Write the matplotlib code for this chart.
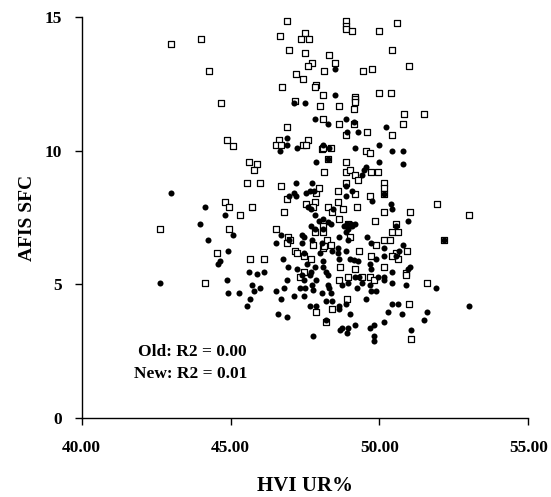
import matplotlib
matplotlib.use("Agg")
import matplotlib.pyplot as plt

plt.rcParams['font.family'] = ['Liberation Serif', 'DejaVu Serif']
plt.rcParams['font.weight'] = 'bold'

# open squares (New)
new_x = [43.0, 44.0, 44.27, 44.67, 44.89, 46.88, 46.66, 47.51, 47.38, 47.65, 46.97, 47.51, 48.3, 47.74,
         47.61, 48.14, 47.19, 47.42, 47.87, 47.83, 48.1, 46.74, 48.02, 47.15, 48.1, 46.89, 46.62, 47.61,
         48.87, 48.87, 48.87, 49.09, 49.99, 50.58, 50.43, 48.51, 49.46, 49.76, 50.98, 49.18, 49.18, 49.18,
         50.0, 50.4, 48.64, 49.14, 50.82, 51.49, 49.14, 48.64, 50.8, 48.87, 49.59, 50.43,
         45.08, 46.53, 46.71, 47.44, 47.52, 48.06, 48.27, 48.14, 45.62, 45.89, 45.8, 45.56, 45.98, 46.71,
         46.88, 47.88, 47.97, 44.81, 44.95, 45.71, 45.31, 42.64, 44.95, 44.55, 45.66, 46.12, 46.79, 47.52,
         47.84, 47.77, 48.27, 47.83, 48.1, 48.1, 46.53, 46.92, 47.01, 46.89, 47.78, 47.17, 47.24, 47.47,
         47.69, 48.1, 48.23, 47.47,
         48.1, 48.36, 49.54, 49.67, 48.87, 48.87, 49.0, 49.18, 49.72, 49.94, 49.27, 48.87, 50.16, 50.16,
         50.16, 48.6, 49.18, 49.67, 48.6, 48.42, 48.78, 49.23, 50.16, 51.03, 51.92, 53.01, 52.16, 48.64,
         49.85, 50.57, 50.43, 50.61, 48.96, 49.0, 50.16, 50.34, 49.9, 50.93, 50.57, 50.43, 50.61, 48.37,
         49.32, 49.72, 48.69, 49.18, 50.16, 50.88,
         44.13, 47.34, 47.88, 48.22,
         48.64, 48.96, 49.41, 49.67, 49.81, 50.9, 51.61, 48.91, 48.42, 50.98, 51.07, 48.15]
new_y = [14.0, 14.2, 12.98, 11.79, 10.4, 14.88, 14.3, 14.4, 14.18, 14.18, 13.78, 13.68, 13.59, 13.28,
         13.18, 12.98, 12.88, 12.68, 12.48, 12.38, 12.09, 12.38, 11.69, 11.88, 11.2, 10.9, 10.4, 10.4,
         14.88, 14.68, 14.58, 14.48, 14.48, 14.78, 13.78, 13.28, 12.98, 13.08, 13.18, 12.03, 11.94, 11.84,
         12.18, 12.18, 11.69, 11.58, 11.39, 11.39, 11.0, 11.0, 11.0, 10.6, 10.7, 10.6,
         10.19, 10.21, 10.21, 10.21, 10.21, 10.09, 9.7, 9.2, 9.6, 9.5, 9.3, 8.8, 8.8, 8.7,
         8.2, 8.41, 8.6, 8.1, 7.91, 7.91, 7.61, 7.07, 7.07, 6.17, 5.97, 5.97, 7.72, 8.01,
         8.1, 7.91, 7.91, 6.97, 7.17, 6.97, 7.07, 6.77, 6.67, 6.57, 6.47, 6.27, 6.17, 6.07,
         5.97, 6.37, 6.67, 5.47,
         10.11, 10.11, 10.01, 9.91, 9.6, 9.2, 9.3, 9.1, 9.2, 9.2, 8.9, 8.8, 8.8, 8.6,
         8.4, 8.5, 8.4, 8.3, 8.1, 7.72, 7.82, 7.91, 7.72, 7.72, 8.01, 7.61, 6.67, 7.46,
         7.37, 7.27, 6.97, 6.97, 7.27, 6.77, 6.67, 6.67, 6.47, 6.27, 6.17, 6.07, 5.97, 6.47,
         6.27, 6.07, 5.67, 5.57, 5.67, 5.42,
         5.07, 5.27, 3.98, 3.58,
         5.17, 5.27, 5.27, 5.27, 5.17, 5.37, 5.07, 4.47, 4.08, 4.28, 2.97, 6.45]

# filled circles (Old)
old_x = [47.14, 47.5, 47.83, 48.28, 46.89,
         48.51, 48.51, 48.87, 49.14, 50.21, 48.91, 49.27,
         46.89, 46.66, 47.23, 48.1, 48.3, 47.87, 47.19, 47.73, 43.0, 47.14, 47.21, 46.96, 47.52, 47.66,
         47.79, 44.13, 44.81, 43.98, 45.08, 44.25, 44.93, 44.66, 44.57, 45.62, 45.89, 46.11, 47.59, 47.71,
         47.83, 48.1, 47.96, 47.69, 47.83, 48.1, 48.27, 46.71, 46.53, 46.96, 47.39, 47.46, 47.41, 47.73,
         47.46, 46.75, 48.0, 48.09, 48.09, 47.83, 47.56, 47.23, 46.93, 47.69,
         49.18, 49.99, 50.43, 50.8, 48.27, 49.99, 50.8, 49.41, 49.49, 49.54, 48.87, 50.16, 49.09, 48.87,
         49.76, 48.45, 50.39, 50.43, 52.16, 50.97, 50.57, 48.37, 48.82, 48.91, 49.05, 49.18, 48.87, 48.96,
         49.09, 48.96, 48.64, 49.58, 49.72, 50.79, 50.66, 50.16, 50.16, 50.57, 48.06, 48.6, 48.87, 48.6,
         48.42, 48.64, 49.0, 49.14, 49.27, 49.9, 49.67, 49.72, 51.02, 50.97, 50.43,
         42.64, 44.89, 44.93, 45.29, 45.71, 45.8, 45.98, 45.66, 45.56, 46.52, 46.79, 46.88, 46.69, 47.14,
         47.46, 46.61, 46.88, 47.46, 47.5, 47.32, 47.73, 47.86, 47.68, 47.41, 48.08, 48.27, 48.22, 47.68,
         47.86, 48.22, 47.77, 48.27,
         49.18, 49.32, 49.41, 49.94, 50.16, 50.16, 48.96, 48.74, 50.43, 50.9, 51.91, 53.01, 48.3, 48.37,
         48.42, 49.23, 49.67, 49.72, 49.9, 49.54, 48.64, 48.64, 48.87, 49.0, 48.74, 48.69, 48.91, 49.18,
         48.96, 49.67, 49.81, 49.81, 49.81, 50.16, 50.3, 50.75, 50.43, 50.61, 51.61, 51.48, 51.07,
         47.78, 48.2]
old_y = [11.79, 11.79, 11.2, 11.01, 10.5,
         13.08, 12.09, 11.2, 11.1, 10.9, 10.7, 10.7,
         10.21, 10.01, 10.11, 10.21, 10.11, 9.6, 8.8, 8.8, 8.41, 8.41, 8.31, 8.31, 8.41, 8.51,
         8.51, 7.91, 7.61, 7.27, 6.87, 6.67, 6.27, 5.87, 5.77, 5.47, 5.39, 5.47, 7.91, 7.83,
         7.61, 7.46, 7.37, 7.17, 7.07, 7.07, 7.32, 6.87, 6.57, 6.67, 6.87, 6.77, 6.57, 6.67,
         6.17, 5.97, 6.17, 5.87, 5.67, 5.67, 5.77, 5.57, 5.67, 5.47,
         10.11, 10.21, 10.01, 10.01, 9.7, 9.6, 9.5, 9.1, 9.3, 9.4, 8.7, 8.4, 8.5, 8.3,
         8.11, 7.82, 8.01, 7.82, 6.67, 7.37, 7.17, 7.27, 7.17, 7.27, 7.27, 7.27, 6.97, 7.07,
         7.17, 6.67, 6.77, 6.77, 6.57, 6.47, 6.27, 6.37, 6.07, 6.07, 6.57, 6.37, 6.27, 6.17,
         6.27, 5.97, 5.97, 5.92, 5.87, 5.97, 5.77, 5.57, 5.67, 5.57, 5.47,
         5.07, 5.17, 4.67, 4.67, 4.97, 4.77, 4.87, 4.47, 4.19, 4.77, 4.87, 5.17, 4.47, 4.57,
         4.57, 3.88, 3.78, 5.17, 4.87, 4.87, 4.97, 5.17, 5.37, 5.37, 4.67, 4.97, 4.37, 4.18,
         4.18, 3.68, 3.08, 5.37,
         5.27, 5.27, 5.07, 5.27, 5.27, 5.17, 5.07, 4.97, 5.07, 4.97, 4.87, 4.19, 4.85, 4.67,
         4.37, 4.87, 4.97, 4.77, 4.77, 4.47, 4.18, 4.08, 4.28, 3.88, 3.37, 3.28, 3.17, 3.47,
         3.37, 3.37, 3.47, 3.07, 2.87, 3.58, 3.98, 3.88, 4.28, 4.28, 3.98, 3.68, 3.28,
         4.79, 5.48]

x_ticks = [40, 45, 50, 55]
x_tick_labels = ['40.00', '45.00', '50.00', '55.00']
y_ticks = [0, 5, 10, 15]
labels = ['Old: R2 = 0.00', 'New: R2 = 0.01']

fig = plt.figure(figsize=(5.51, 4.97), dpi=100)
ax = fig.add_axes([0.148, 0.159, 0.811, 0.806])

ax.scatter(new_x, new_y, marker='s', s=18, facecolor='white', edgecolor='black', linewidths=0.9, zorder=2)
ax.scatter(old_x, old_y, marker='o', s=19, color='black', linewidths=0, zorder=3)

ax.set_xlim(40, 55)
ax.set_ylim(0, 15)
ax.set_xticks(x_ticks)
ax.set_xticklabels(x_tick_labels)
ax.set_yticks(y_ticks)
ax.spines['top'].set_visible(False)
ax.spines['right'].set_visible(False)
for sp in ['left', 'bottom']:
    ax.spines[sp].set_linewidth(1.0)
    ax.spines[sp].set_clip_on(False)

ax.tick_params(axis='x', direction='out', length=5, width=1.0, pad=11, labelsize=12.5)
ax.tick_params(axis='y', direction='out', length=5, width=1.0, pad=9, labelsize=12.5)

ax.set_xlabel('HVI UR%', fontsize=15, fontweight='bold', labelpad=14)
ax.set_ylabel('AFIS SFC', fontsize=14, fontweight='bold', labelpad=6)

ax.text(45.55, 2.47, labels[0], ha='right', va='center', fontsize=12.5, fontweight='bold')
ax.text(45.55, 1.65, labels[1], ha='right', va='center', fontsize=12.5, fontweight='bold')

fig.savefig('out.png', dpi=100)
